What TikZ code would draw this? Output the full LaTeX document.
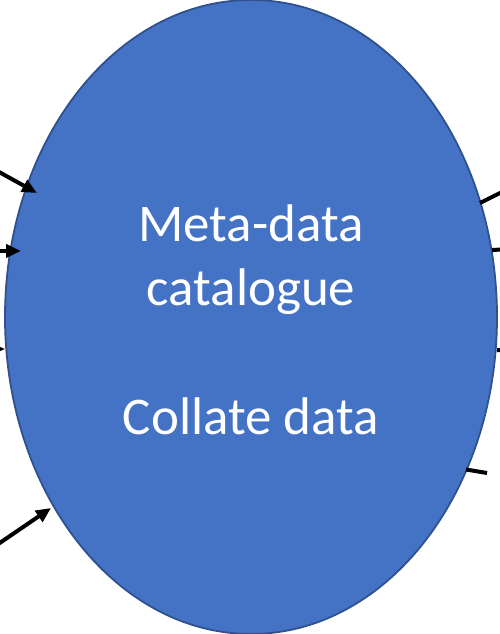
\documentclass[tikz,border=0pt]{standalone}
\usepackage{fontspec}
\setmainfont{Carlito}
\usetikzlibrary{arrows.meta,shapes.geometric}
\definecolor{catfill}{HTML}{4472C4}
\definecolor{catedge}{HTML}{2F528F}
\tikzset{
  catshape/.style={ellipse,draw=catedge,line width=1.8pt,fill=catfill,
    minimum width=492pt,minimum height=634pt,inner sep=0pt},
  catlabel/.style={text=white,align=center,
    font=\fontsize{53}{64.5}\selectfont},
  inarrow/.style={line width=4pt,-{Triangle[length=15pt,width=13pt]}},
  outline/.style={line width=4pt}
}
\begin{document}
\begin{tikzpicture}[x=1pt,y=1pt]
\useasboundingbox (0,0) rectangle (500,634);
\node[catshape] (cat) at (251,317) {};
\node[catlabel,anchor=base] (txt) at (251,199) {Meta-data\\catalogue\\[64.5pt]Collate data};
% incoming arrows (left)
\coordinate (l1) at (-10,467);
\coordinate (t1) at (37,441);
\coordinate (l2) at (-10,383);
\coordinate (t2) at (21,383);
\coordinate (l3) at (-25,285);
\coordinate (t3) at (5,285);
\coordinate (l4) at (-12,83);
\coordinate (t4) at (51,126);
\draw[inarrow] (l1) -- (t1);
\draw[inarrow] (l2) -- (t2);
\draw[inarrow] (l3) -- (t3);
\draw[inarrow] (l4) -- (t4);
% outgoing lines (right)
\coordinate (s1) at (480,431);
\coordinate (e1) at (512,447);
\coordinate (s2) at (492,384);
\coordinate (e2) at (512,385);
\coordinate (s3) at (497,284);
\coordinate (e3) at (512,283);
\coordinate (s4) at (466,164.5);
\coordinate (e4) at (487,161);
\draw[outline] (s1) -- (e1);
\draw[outline] (s2) -- (e2);
\draw[outline] (s3) -- (e3);
\draw[outline] (s4) -- (e4);
\end{tikzpicture}
\end{document}
